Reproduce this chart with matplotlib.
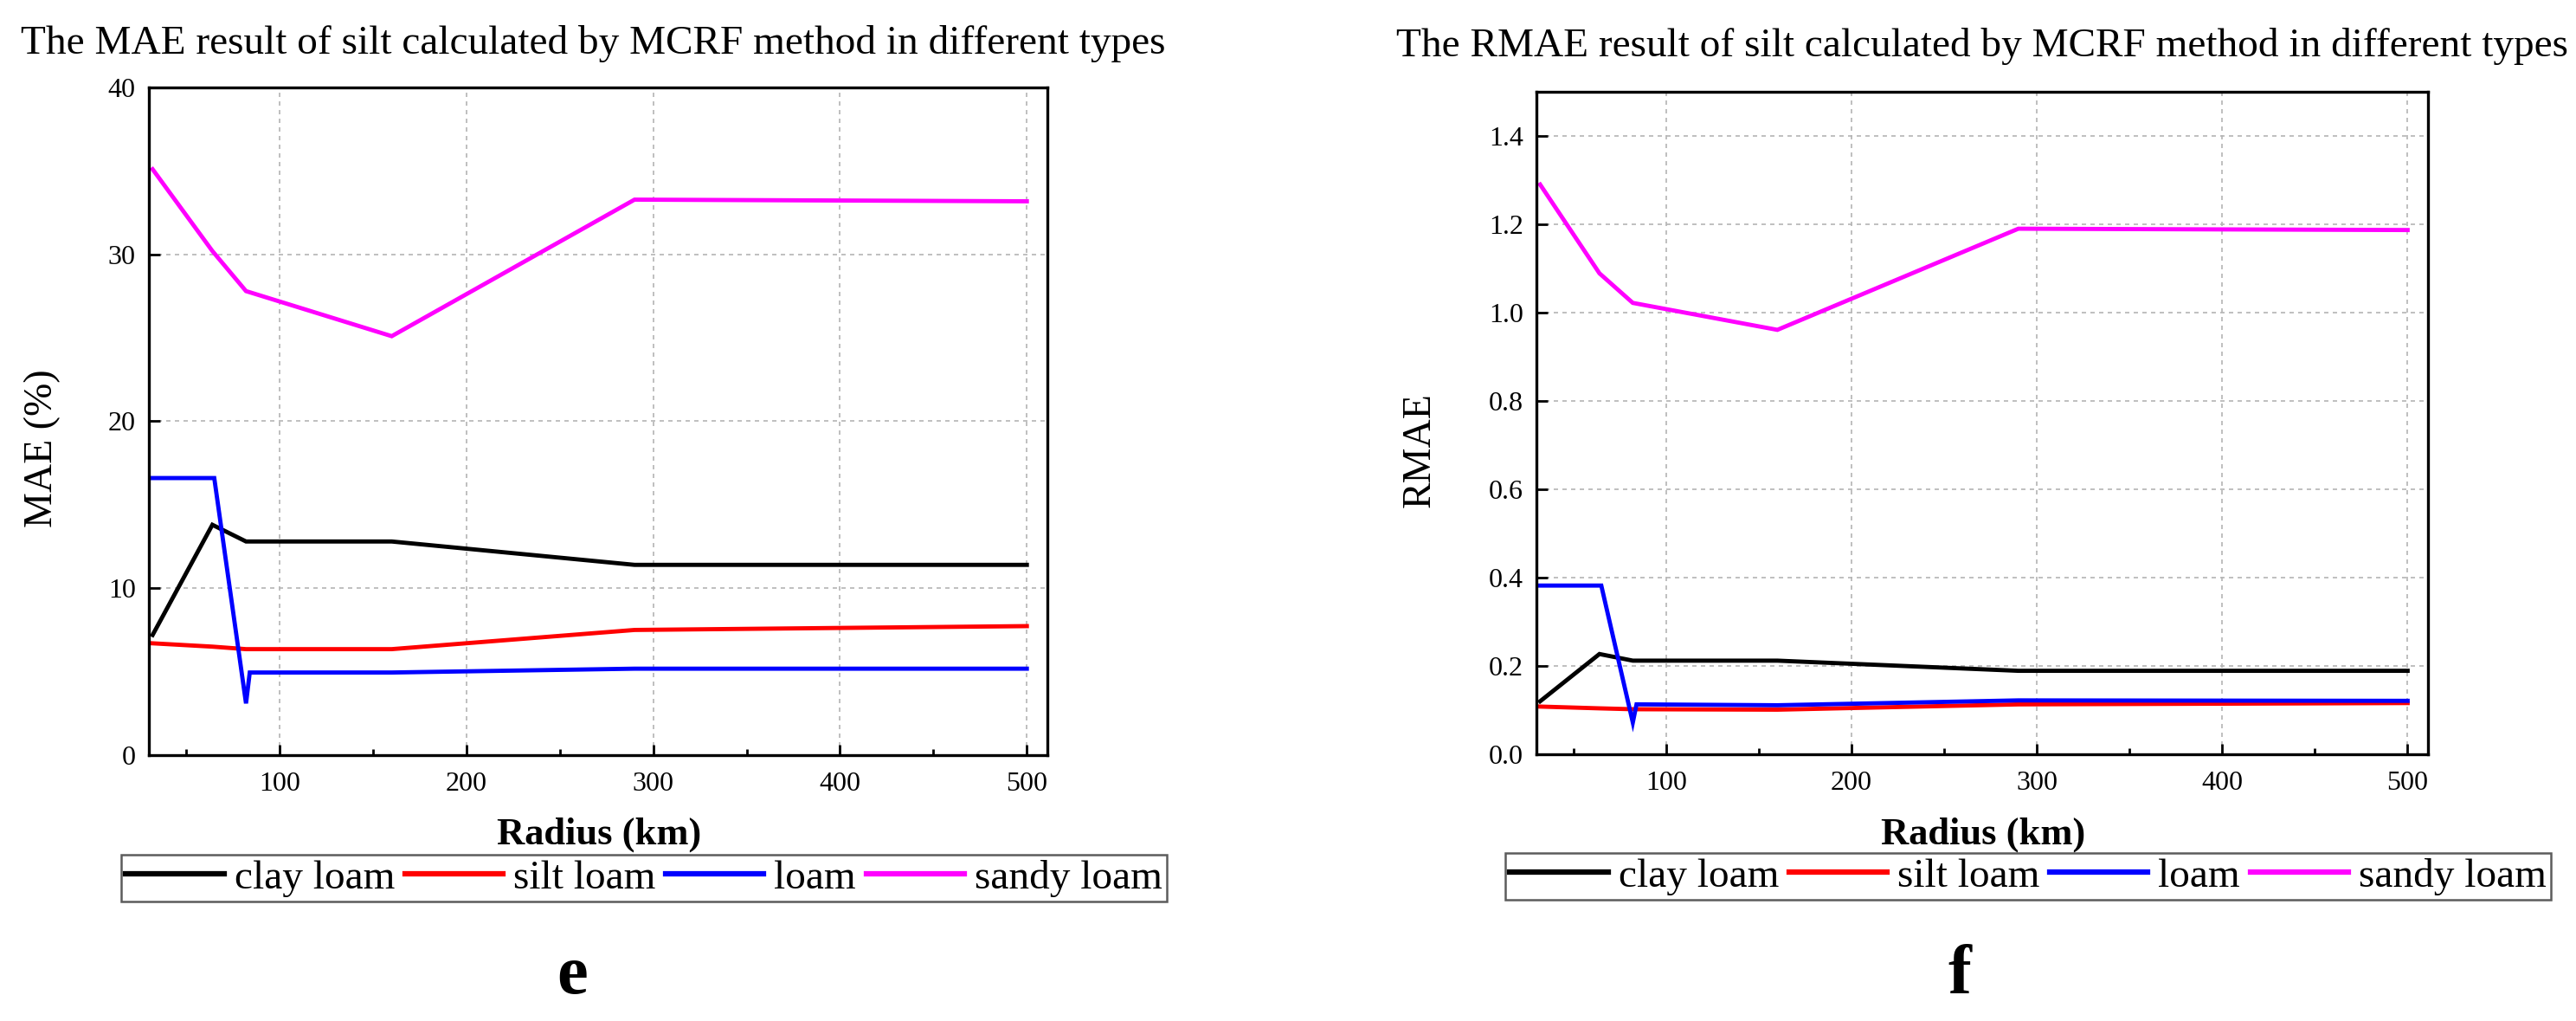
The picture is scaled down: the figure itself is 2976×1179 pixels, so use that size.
import numpy as np
import matplotlib
matplotlib.use('Agg')
import matplotlib.pyplot as plt
from matplotlib.ticker import MultipleLocator

plt.rcParams['font.family'] = ['Liberation Serif', 'DejaVu Serif']

# radius (km) of the search neighbourhood
radius = [32, 64, 82, 160, 290, 500]
loam_radius = [32, 65, 82, 84, 160, 290, 500]   # loam has a small dip near 82 km

labels = ['clay loam', 'silt loam', 'loam', 'sandy loam']
colors = ['#000000', '#ff0000', '#0000ff', '#ff00ff']

# MAE (%)
mae_clay = [7.2, 13.8, 12.8, 12.8, 11.4, 11.4]
mae_silt = [6.7, 6.5, 6.35, 6.35, 7.5, 7.73]
mae_loam = [16.6, 16.6, 3.1, 4.95, 4.95, 5.18, 5.18]
mae_sandy = [35.1, 30.2, 27.8, 25.1, 33.28, 33.18]

# RMAE
rmae_clay = [0.12, 0.227, 0.212, 0.212, 0.189, 0.189]
rmae_silt = [0.108, 0.104, 0.102, 0.101, 0.113, 0.116]
rmae_loam = [0.382, 0.382, 0.072, 0.113, 0.111, 0.122, 0.121]
rmae_sandy = [1.29, 1.089, 1.022, 0.961, 1.19, 1.187]

W, H = 2976, 1179
fig = plt.figure(figsize=(W / 100, H / 100), dpi=100)

ax1 = fig.add_axes([172 / W, 1 - 872 / H, 1038 / W, 771 / H])
ax2 = fig.add_axes([1775 / W, 1 - 871 / H, 1030 / W, 765 / H])


def draw(ax, clay, silt, loam, sandy, ylim, ystep, yfmt):
    xs = [radius, radius, loam_radius, radius]
    for x, y, c, lab in zip(xs, [clay, silt, loam, sandy], colors, labels):
        ax.plot(x, y, color=c, lw=3.5, label=lab, solid_joinstyle='miter')
    ax.set_xlim(30, 511)
    ax.set_ylim(*ylim)
    ax.xaxis.set_major_locator(MultipleLocator(100))
    ax.xaxis.set_minor_locator(MultipleLocator(50))
    ax.yaxis.set_major_locator(MultipleLocator(ystep))
    ax.yaxis.set_major_formatter(yfmt)
    ax.grid(True, which='major', color='#b4b4b4', lw=1.2, linestyle=(0, (3, 3)))
    ax.set_axisbelow(True)
    for s in ax.spines.values():
        s.set_linewidth(2.4)
    ax.tick_params(which='major', direction='in', length=9, width=2, labelsize=23,
                   top=False, right=False)
    ax.tick_params(which='minor', direction='in', length=5, width=2,
                   top=False, right=False)
    ax.tick_params(axis='x', pad=14)
    ax.tick_params(axis='y', pad=11)


draw(ax1, mae_clay, mae_silt, mae_loam, mae_sandy, (0, 40), 10, '{x:.0f}')
draw(ax2, rmae_clay, rmae_silt, rmae_loam, rmae_sandy, (0, 1.5), 0.2, '{x:.1f}')

ax1.set_ylabel('MAE (%)', fontsize=33, va='center')
ax1.yaxis.set_label_coords(-0.1185, 0.459)
ax2.set_ylabel('RMAE', fontsize=33, va='center')
ax2.yaxis.set_label_coords(-0.131, 0.46)

fig.text(0.2302, 1 - 62 / H, 'The MAE result of silt calculated by MCRF method in different types',
         ha='center', va='baseline', fontsize=34)
fig.text(0.7695, 1 - 65 / H, 'The RMAE result of silt calculated by MCRF method in different types',
         ha='center', va='baseline', fontsize=34)

fig.text(0.2325, 1 - 975 / H, 'Radius (km)', ha='center', va='baseline',
         fontsize=32, fontweight='bold')
fig.text(0.7698, 1 - 975 / H, 'Radius (km)', ha='center', va='baseline',
         fontsize=32, fontweight='bold')

for ax, cx, cy in [(ax1, 744 / W, 1 - 1014 / H), (ax2, 2343 / W, 1 - 1012 / H)]:
    leg = ax.legend(loc='center', bbox_to_anchor=(cx, cy), bbox_transform=fig.transFigure,
                    ncol=4, fontsize=34, frameon=True, fancybox=False, shadow=False,
                    handlelength=2.4, handletextpad=0.25, columnspacing=0.25,
                    borderpad=0.12, borderaxespad=0)
    leg.get_frame().set_edgecolor('#333333')
    leg.get_frame().set_linewidth(1.8)
    for line in leg.get_lines():
        line.set_linewidth(4.5)

fig.text(661 / W, 1 - 1147 / H, 'e', ha='center', va='baseline', fontsize=58, fontweight='bold')
fig.text(2264 / W, 1 - 1147 / H, 'f', ha='center', va='baseline', fontsize=58, fontweight='bold')

fig.savefig('out.png', dpi=100, facecolor='white')
